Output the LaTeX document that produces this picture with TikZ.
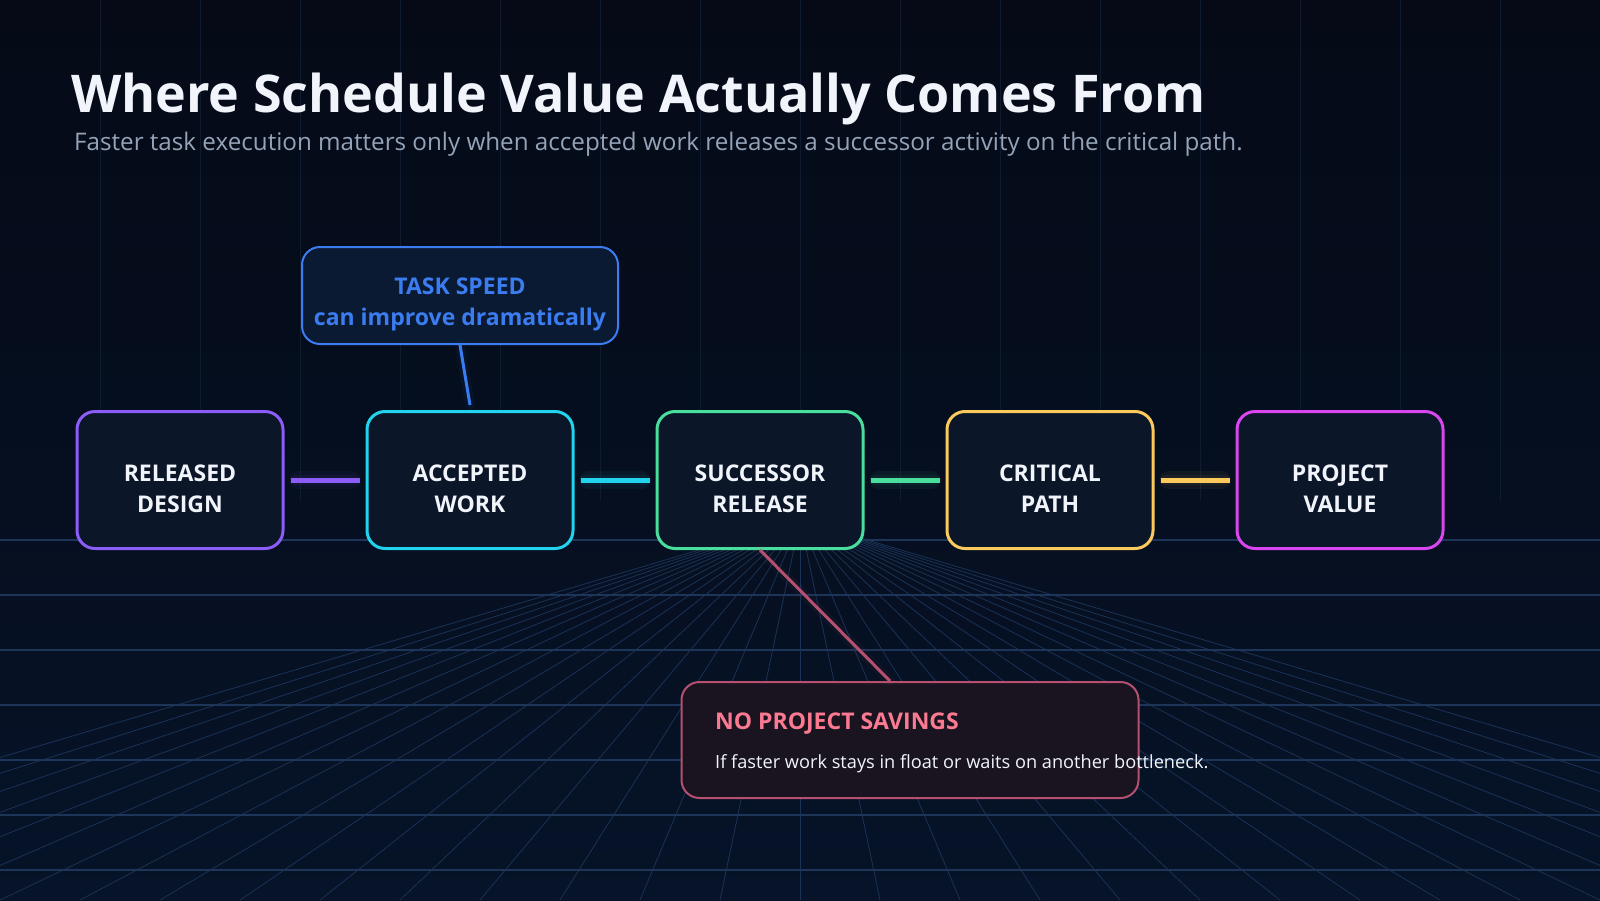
\documentclass[tikz,border=0pt]{standalone}
\usepackage{fontspec}
\setmainfont{Open Sans}
\usetikzlibrary{calc}

\definecolor{colorBG}{HTML}{050A16}
\definecolor{colorBGlow}{HTML}{061328}
\definecolor{colorBOX}{HTML}{0B1628}
\definecolor{colorDES}{HTML}{8B5CF6}
\definecolor{colorACC}{HTML}{22D3EE}
\definecolor{colorSUC}{HTML}{4ADE9E}
\definecolor{colorCRT}{HTML}{FCC95C}
\definecolor{colorVAL}{HTML}{D946EF}
\definecolor{colorSPD}{HTML}{3B7CF0}
\definecolor{colorSPDbox}{HTML}{0B1A33}
\definecolor{colorSAV}{HTML}{FB7A92}
\definecolor{colorSAVline}{HTML}{B5506F}
\definecolor{colorSAVbox}{HTML}{1A1420}
\definecolor{colorGRID}{HTML}{1C3558}
\definecolor{colorFAN}{HTML}{1A3256}
\definecolor{colorVGRID}{HTML}{0F1B2F}
\definecolor{colorSUB}{HTML}{94A3B8}
\definecolor{colorTXT}{HTML}{F1F5FB}

\tikzset{
   hgrid/.style={draw=colorGRID,line width=1.2pt},
   fan/.style={draw=colorFAN,line width=0.8pt},
   vgrid/.style={draw=colorVGRID,line width=1pt},
   stage/.style={draw=#1,line width=3pt,fill=colorBOX,rounded corners=18pt,
     minimum width=206pt,minimum height=137pt},
   stagetxt/.style={inner sep=0pt,align=center,text=colorTXT,
     font=\fontsize{23}{31}\selectfont\bfseries},
   link/.style={draw=#1,line width=5pt},
   glow/.style={draw=#1,line width=18pt,opacity=0.05,line cap=round},
   note/.style={draw=#1,line width=2pt,rounded corners=18pt},
   plain/.style={inner sep=0pt,anchor=base west},
 }
\newcommand{\dlink}[3]{\draw[glow=#3] ([xshift=14pt]#1.east) -- ([xshift=-14pt]#2.west);
  \draw[glow=#3,line width=10pt] ([xshift=10pt]#1.east) -- ([xshift=-10pt]#2.west);
  \draw[link=#3] ([xshift=6pt]#1.east) -- ([xshift=-6pt]#2.west)}

\begin{document}
\begin{tikzpicture}[x=1pt,y=-1pt]
      \shade[top color=colorBG,bottom color=colorBGlow] (0,0) rectangle (1600,900);
      \useasboundingbox (0,0) rectangle (1600,900);
      % backdrop grid
      \foreach \x in {100,200,...,1500} \draw[vgrid] (\x,0) -- (\x,500);
      \begin{scope}
        \clip (0,518) rectangle (1600,900);
        \foreach \k in {-16,...,16} \draw[fan] (800,520) -- ({800+80*\k},900);
      \end{scope}
      \foreach \y in {540,595,...,870} \draw[hgrid] (0,\y) -- (1600,\y);

      \node[plain,text=colorTXT,font=\fontsize{52}{60}\selectfont\bfseries] (TTL) at (71,112)
        {Where Schedule Value Actually Comes From};
      \node[plain,text=colorSUB,font=\fontsize{24.2}{28}\selectfont] (SUB) at (74,150)
        {Faster task execution matters only when accepted work releases a successor activity on the critical path.};

      \node[stage=colorDES] (DES) at (180,480) {};
      \node[stagetxt] (DESt) at (180,489) {RELEASED\\DESIGN};
      \node[stage=colorACC] (ACC) at (470,480) {};
      \node[stagetxt] (ACCt) at (470,489) {ACCEPTED\\WORK};
      \dlink{DES}{ACC}{colorDES};
      \node[stage=colorSUC] (SUC) at (760,480) {};
      \node[stagetxt] (SUCt) at (760,489) {SUCCESSOR\\RELEASE};
      \dlink{ACC}{SUC}{colorACC};
      \node[stage=colorCRT] (CRT) at (1050,480) {};
      \node[stagetxt] (CRTt) at (1050,489) {CRITICAL\\PATH};
      \dlink{SUC}{CRT}{colorSUC};
      \node[stage=colorVAL] (VAL) at (1340,480) {};
      \node[stagetxt] (VALt) at (1340,489) {PROJECT\\VALUE};
      \dlink{CRT}{VAL}{colorCRT};

      % task speed callout
      \node[note=colorSPD,fill=colorSPDbox,minimum width=316pt,minimum height=97pt] (SPD) at (460,295.5) {};
      \node[stagetxt,text=colorSPD,font=\fontsize{23}{31}\selectfont\bfseries] (SPDt) at (460,304)
        {TASK SPEED\\can improve dramatically};
      \draw[glow=colorSPD,line width=10pt] (SPD.south) -- ([yshift=5pt]ACC.north);
      \draw[draw=colorSPD,line width=3pt] (SPD.south) -- ([yshift=5pt]ACC.north);

      % savings callout
      \node[note=colorSAVline,fill=colorSAVbox,minimum width=457pt,minimum height=116pt] (SAV) at (910,740) {};
      \draw[glow=colorSAVline,line width=10pt] (SUC.south) -- ([xshift=-20pt]SAV.north);
      \draw[draw=colorSAVline,line width=3pt] (SUC.south) -- ([xshift=-20pt]SAV.north);
      \node[plain,text=colorSAV,font=\fontsize{23}{28}\selectfont\bfseries] (SAVt) at (715,729)
        {NO PROJECT SAVINGS};
      \node[plain,text=colorTXT,font=\fontsize{18.2}{22}\selectfont] (SAVb) at (715,768)
        {If faster work stays in float or waits on another bottleneck.};
    \end{tikzpicture}
\end{document}
